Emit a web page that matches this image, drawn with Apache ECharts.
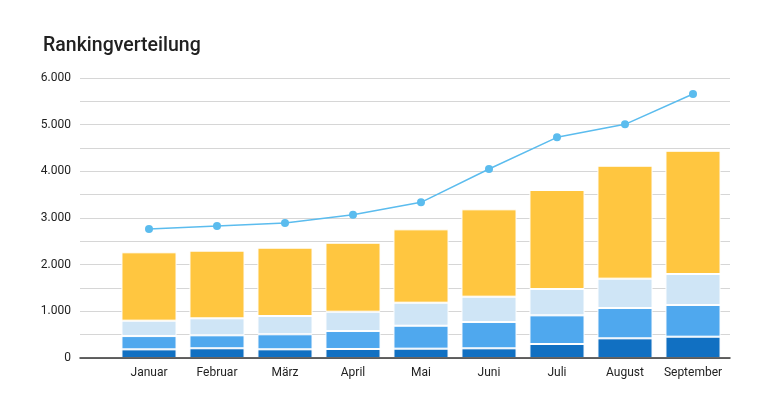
<!DOCTYPE html>
<html>
<head>
<meta charset="utf-8">
<script src="https://cdn.jsdelivr.net/npm/echarts@6/dist/echarts.min.js"></script>
<style>html,body{margin:0;padding:0;background:#fff;}#c{width:768px;height:400px;}</style>
</head>
<body>
<div id="c"></div>
<script>
var categories = ['Januar','Februar','März','April','Mai','Juni','Juli','August','September'];
var rank1 = [185, 208, 186, 193, 200, 207, 300, 421, 457];
var rank2 = [285, 278, 322, 385, 492, 564, 614, 650, 679];
var rank3 = [330, 364, 392, 414, 493, 543, 564, 629, 664];
var rank4 = [1465, 1450, 1464, 1478, 1572, 1872, 2122, 2420, 2641];
var total = [2766, 2826, 2893, 3071, 3336, 4050, 4729, 5007, 5657];
var yTicks = [0, 1000, 2000, 3000, 4000, 5000, 6000];

function fmt(v){
  return String(v).replace(/\B(?=(\d{3})+(?!\d))/g, '.');
}

var chart = echarts.init(document.getElementById('c'));
var barStyle = function(color){
  return {color: color, borderColor: '#ffffff', borderWidth: 1};
};
chart.setOption({
  animation: false,
  title: {
    text: 'Rankingverteilung', left: 38, top: 31,
    textStyle: {fontFamily: 'Roboto', fontWeight: 500, fontSize: 19.5, color: '#212121'}
  },
  grid: [
    {left: 80, right: 38, top: 78, bottom: 42},
    {left: 115, right: 41, top: 78, bottom: 42}
  ],
  xAxis: [
    {gridIndex: 0, type: 'value', min: 0, max: 1, z: 10,
     axisLine: {show: true, onZero: false, lineStyle: {color: '#333', width: 1.5}},
     axisTick: {show: false}, axisLabel: {show: false}, splitLine: {show: false}},
    {gridIndex: 1, type: 'category', data: categories,
     axisLine: {show: false}, axisTick: {show: false},
     axisLabel: {interval: 0, fontFamily: 'Roboto', fontSize: 12, color: '#222', margin: 9}}
  ],
  yAxis: [
    {gridIndex: 0, type: 'value', min: 0, max: 6000, interval: 500,
     axisLine: {show: false}, axisTick: {show: false},
     axisLabel: {fontFamily: 'Roboto', fontSize: 12, color: '#222', margin: 9,
       formatter: function(v){ return yTicks.indexOf(v) >= 0 ? fmt(v) : ''; }},
     splitLine: {lineStyle: {color: '#d6d6d6', width: 1}}},
    {gridIndex: 1, type: 'value', min: 0, max: 6000, show: false, splitLine: {show: false}}
  ],
  series: [
    {type: 'bar', xAxisIndex: 1, yAxisIndex: 1, stack: 'r', data: rank1, barCategoryGap: '19%', itemStyle: barStyle('#1170c2')},
    {type: 'bar', xAxisIndex: 1, yAxisIndex: 1, stack: 'r', data: rank2, itemStyle: barStyle('#4fa8ee')},
    {type: 'bar', xAxisIndex: 1, yAxisIndex: 1, stack: 'r', data: rank3, itemStyle: barStyle('#cfe5f6')},
    {type: 'bar', xAxisIndex: 1, yAxisIndex: 1, stack: 'r', data: rank4, itemStyle: barStyle('#ffc640')},
    {type: 'line', xAxisIndex: 1, yAxisIndex: 1, data: total, z: 5,
     symbol: 'circle', symbolSize: 8,
     lineStyle: {color: '#5bbcee', width: 1.5},
     itemStyle: {color: '#5bbcee'}}
  ]
});
</script>
</body>
</html>
